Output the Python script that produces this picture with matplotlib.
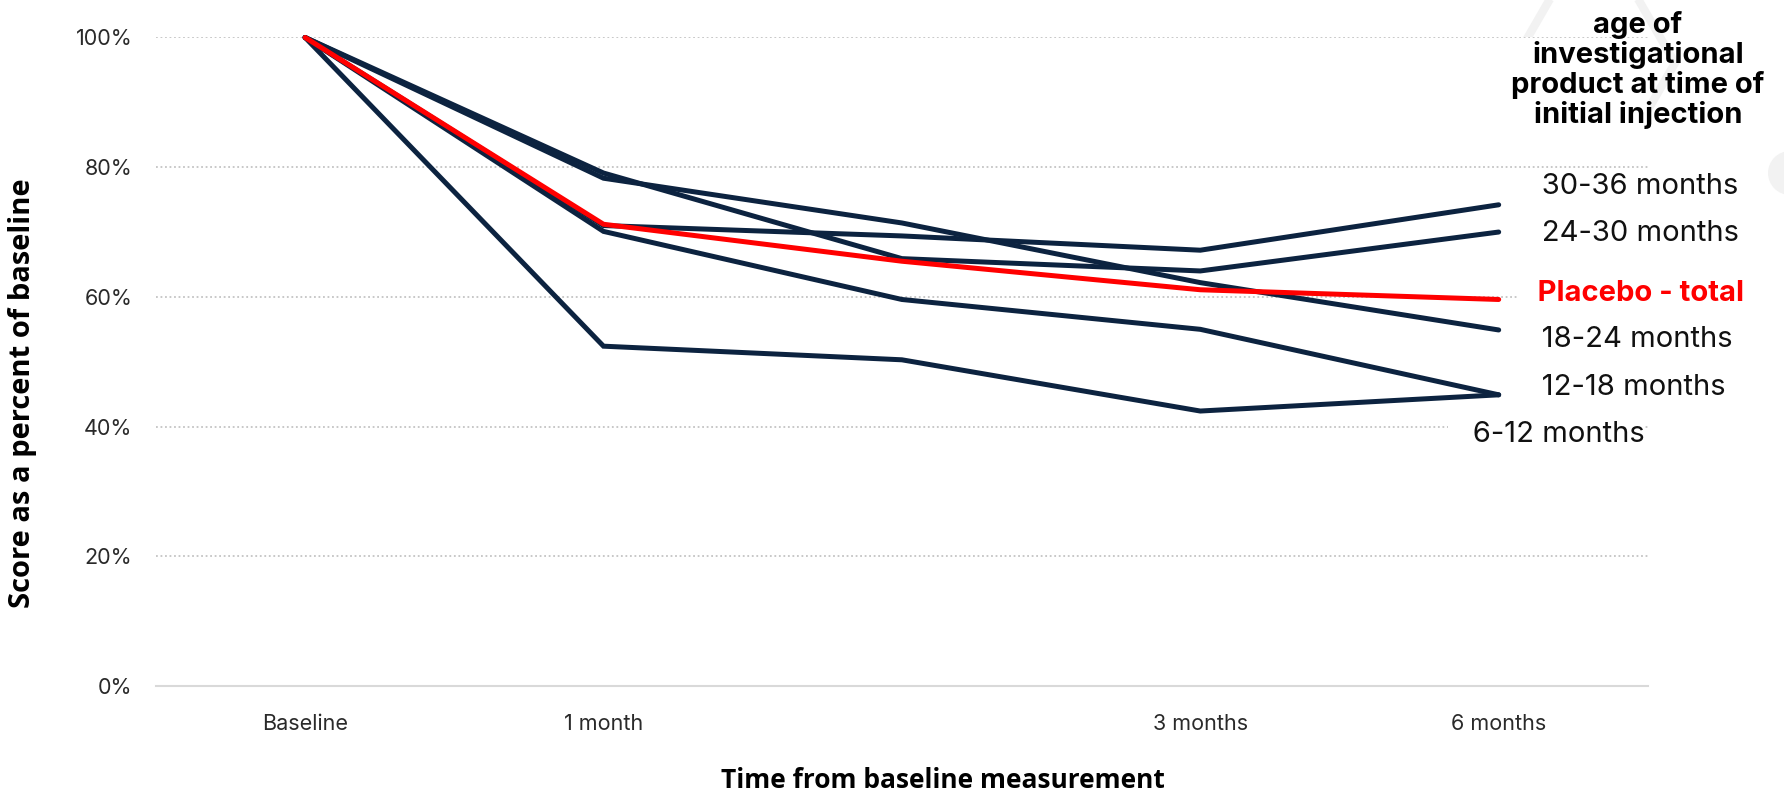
import matplotlib
matplotlib.use("Agg")
import matplotlib.pyplot as plt
from matplotlib.patches import Circle, RegularPolygon

# time points (the 4th slot has no label in the original)
timepoints = ["Baseline", "1 month", "", "3 months", "6 months"]

# score as a percent of baseline
age_30_36 = [100, 71.0, 69.4, 67.2, 74.2]
age_24_30 = [100, 79.1, 65.9, 64.0, 70.0]
age_18_24 = [100, 78.3, 71.4, 62.2, 54.9]
age_12_18 = [100, 70.1, 59.6, 55.0, 44.9]
age_6_12 = [100, 52.4, 50.3, 42.4, 44.9]
placebo_total = [100, 71.2, 65.5, 61.1, 59.6]

series_names = ["30-36 months", "24-30 months", "Placebo - total",
                "18-24 months", "12-18 months", "6-12 months"]
series_values = [age_30_36, age_24_30, placebo_total, age_18_24, age_12_18, age_6_12]

# where the right hand labels sit (x in category units, y in percent)
label_x = [4.06, 4.06, 4.06, 4.06, 4.06, 3.83]
label_y = [77.0, 69.8, 60.5, 53.5, 46.1, 38.8]

NAVY = "#0c2340"
RED = "#ff0000"
GRID = "#c4c4c4"

plt.rcParams['font.family'] = ['Inter', 'DejaVu Sans']

fig = plt.figure(figsize=(17.84, 7.94), dpi=100)

# faint background decoration, in pixel coordinates
bg = fig.add_axes([0, 0, 1, 1], zorder=-5)
bg.set_xlim(0, 1784)
bg.set_ylim(794, 0)
bg.axis("off")
deco = "#f2f2f2"
bg.add_patch(Circle((1375, 63), 25, color=deco, lw=0))
bg.plot([1375, 1513], [63, 63], color=deco, lw=7, solid_capstyle="butt")
bg.add_patch(RegularPolygon((1594, 63), 6, radius=81, orientation=0.5236,
                            fill=False, edgecolor=deco, lw=6))
bg.add_patch(Circle((1790, 173), 22, color=deco, lw=0))

ax = fig.add_axes([0.0874, 0.136, 0.8363, 0.8168])
x = list(range(len(timepoints)))

for name, vals in zip(series_names, series_values):
    if name.startswith("Placebo"):
        continue
    ax.plot(x, vals, color=NAVY, lw=3.6, solid_capstyle="round",
            solid_joinstyle="miter", clip_on=False, zorder=3)
ax.plot(x, placebo_total, color=RED, lw=3.6, solid_capstyle="round",
        solid_joinstyle="miter", clip_on=False, zorder=4)

ax.set_xlim(-0.5, 4.5)
ax.set_ylim(0, 100)
ax.set_xticks(x)
ax.set_xticklabels(timepoints)
ax.set_yticks([0, 20, 40, 60, 80, 100])
ax.set_yticklabels([f"{v}%" for v in [0, 20, 40, 60, 80, 100]])
ax.tick_params(axis="both", length=0, labelsize=15.5, colors="#2a2a2a")
ax.tick_params(axis="y", pad=17)
ax.tick_params(axis="x", pad=20)

for s in ["top", "right", "left"]:
    ax.spines[s].set_visible(False)
ax.spines["bottom"].set_color("#d9d9d9")
ax.spines["bottom"].set_linewidth(1.5)

for v in [20, 40, 60, 80, 100]:
    ax.axhline(v, color=GRID, lw=1.3, ls=(0, (1, 1.5)), zorder=1)

for name, lx, ly in zip(series_names, label_x, label_y):
    placebo = name.startswith("Placebo")
    ax.text(lx, ly, "   " + name, ha="left", va="center", fontsize=21,
            color=RED if placebo else "#111111",
            fontweight="bold" if placebo else "normal",
            bbox=dict(facecolor="white", edgecolor="none", pad=0),
            zorder=5, clip_on=False)

fig.text(1638 / 1784, 1 - 70 / 794,
         "age of\ninvestigational\nproduct at time of\ninitial injection",
         ha="center", va="center", fontsize=21, fontweight="bold",
         linespacing=1.1, color="#000000")

fig.text(23 / 1784, 1 - 393 / 794, "Score as a percent of baseline",
         rotation=90, ha="center", va="center", fontsize=21,
         fontweight="bold", family=["Open Sans", "DejaVu Sans"])
fig.text(943 / 1784, 1 - 780 / 794, "Time from baseline measurement",
         ha="center", va="center", fontsize=19, fontweight="bold",
         family=["Open Sans", "DejaVu Sans"])

fig.savefig("out.png", dpi=100, facecolor="white")
